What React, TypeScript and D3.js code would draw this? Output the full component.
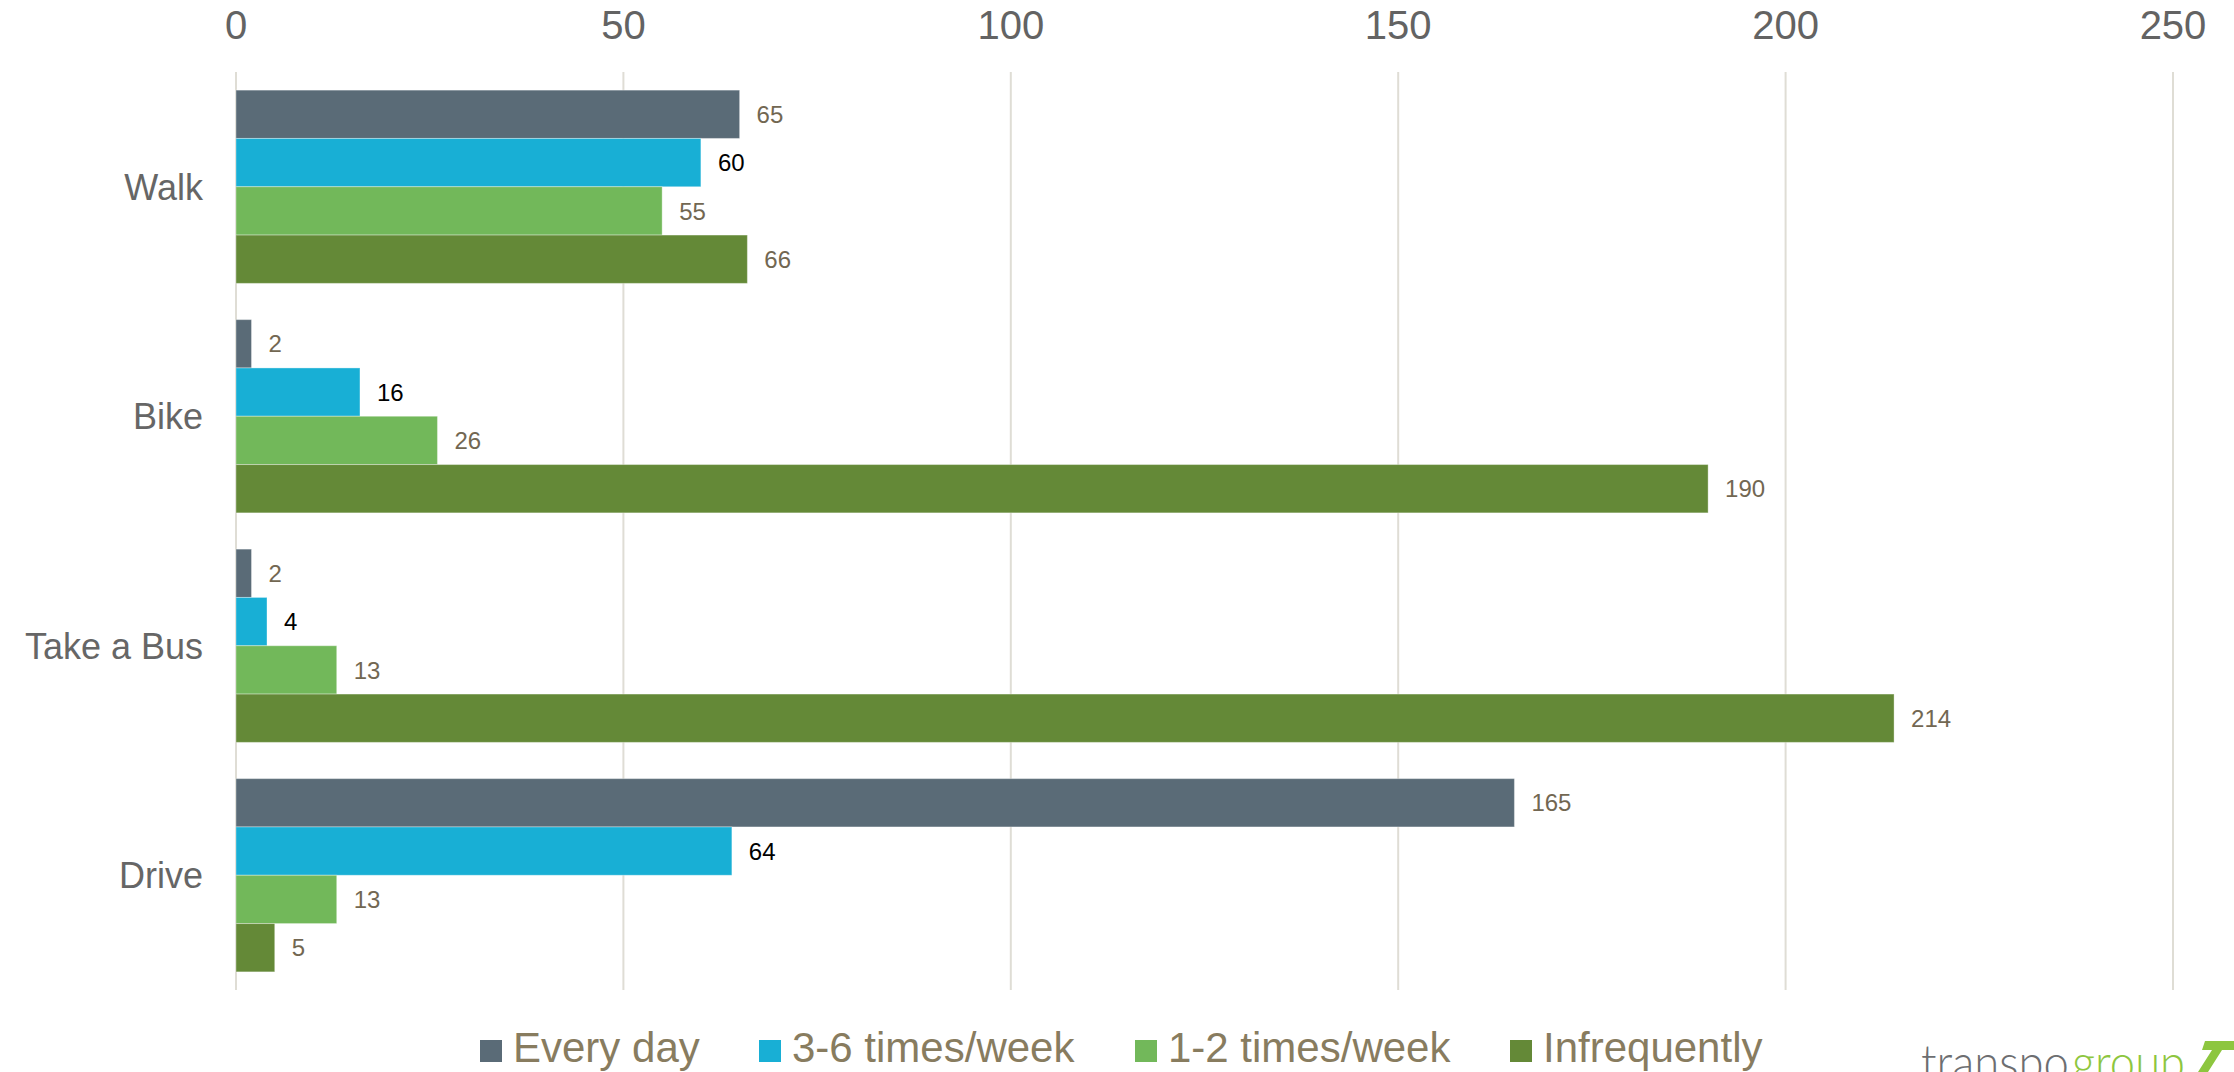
import React, { useRef, useEffect } from "react";
import * as d3 from "d3";

const categories = ["Walk", "Bike", "Take a Bus", "Drive"];
const seriesNames = ["Every day", "3-6 times/week", "1-2 times/week", "Infrequently"];
const everyDay = [65, 2, 2, 165];
const threeToSix = [60, 16, 4, 64];
const oneToTwo = [55, 26, 13, 13];
const infrequently = [66, 190, 214, 5];
const xTicks = [0, 50, 100, 150, 200, 250];

const seriesColors = ["#5A6B77", "#18AFD5", "#72B85A", "#648937"];
const labelColors = ["#726752", "#000000", "#726752", "#726752"];

const App = () => {
  const svgRef = useRef(null);

  useEffect(() => {
    document.body.style.margin = "0";
    document.body.style.overflow = "hidden";

    const width = 2234;
    const height = 1072;
    const seriesValues = [everyDay, threeToSix, oneToTwo, infrequently];

    const svg = d3.select(svgRef.current);
    svg.selectAll("*").remove();
    svg.attr("width", width).attr("height", height).style("display", "block");

    svg.append("rect").attr("width", width).attr("height", height).attr("fill", "#ffffff");

    const xScale = d3.scaleLinear().domain([0, 250]).range([236, 2173]);
    const yScale = d3
      .scaleBand()
      .domain(categories)
      .range([72, 990])
      .paddingInner(0.158)
      .paddingOuter(0.079);
    const subScale = d3
      .scaleBand()
      .domain(seriesNames)
      .range([0, yScale.bandwidth()])
      .padding(0);

    // gridlines
    svg
      .append("g")
      .selectAll("line")
      .data(xTicks)
      .enter()
      .append("line")
      .attr("x1", (d) => xScale(d))
      .attr("x2", (d) => xScale(d))
      .attr("y1", 72)
      .attr("y2", 990)
      .attr("stroke", "#DFDDD5")
      .attr("stroke-width", 2);

    // top tick labels
    svg
      .append("g")
      .selectAll("text")
      .data(xTicks)
      .enter()
      .append("text")
      .attr("x", (d) => xScale(d))
      .attr("y", 39)
      .attr("text-anchor", "middle")
      .attr("font-family", "Liberation Sans, Arial, sans-serif")
      .attr("font-size", 40)
      .attr("fill", "#636363")
      .text((d) => d);

    // category labels
    svg
      .append("g")
      .selectAll("text")
      .data(categories)
      .enter()
      .append("text")
      .attr("x", 203)
      .attr("y", (d) => yScale(d) + yScale.bandwidth() / 2)
      .attr("dy", "0.36em")
      .attr("text-anchor", "end")
      .attr("font-family", "Liberation Sans, Arial, sans-serif")
      .attr("font-size", 36)
      .attr("fill", "#666666")
      .text((d) => d);

    // bars + value labels
    seriesNames.forEach((name, si) => {
      const rows = categories.map((cat, ci) => ({ cat, value: seriesValues[si][ci] }));
      const g = svg.append("g");

      g.selectAll("rect")
        .data(rows)
        .enter()
        .append("rect")
        .attr("x", xScale(0))
        .attr("y", (d) => yScale(d.cat) + subScale(name))
        .attr("width", (d) => xScale(d.value) - xScale(0))
        .attr("height", subScale.bandwidth())
        .attr("fill", seriesColors[si])
        .attr("stroke", "#ffffff")
        .attr("stroke-opacity", 0.35)
        .attr("stroke-width", 1);

      g.selectAll("text")
        .data(rows)
        .enter()
        .append("text")
        .attr("x", (d) => xScale(d.value) + 17)
        .attr("y", (d) => yScale(d.cat) + subScale(name) + subScale.bandwidth() / 2)
        .attr("dy", "0.36em")
        .attr("font-family", "Liberation Sans, Arial, sans-serif")
        .attr("font-size", 24)
        .attr("fill", labelColors[si])
        .text((d) => d.value);
    });

    // legend
    const legendX = [480, 759, 1135, 1510];
    const legend = svg.append("g");
    seriesNames.forEach((name, i) => {
      legend
        .append("rect")
        .attr("x", legendX[i])
        .attr("y", 1040)
        .attr("width", 22)
        .attr("height", 22)
        .attr("fill", seriesColors[i]);
      legend
        .append("text")
        .attr("x", legendX[i] + 33)
        .attr("y", 1062)
        .attr("font-family", "Liberation Sans, Arial, sans-serif")
        .attr("font-size", 42)
        .attr("fill", "#887C5F")
        .text(name);
    });

    // logo, cut by the bottom edge as in the source
    const logo = svg.append("g")
      .attr("font-family", "Lato, Open Sans, sans-serif")
      .attr("font-weight", 300)
      .attr("font-size", 50);
    logo
      .append("text")
      .attr("x", 1921)
      .attr("y", 1080)
      .attr("fill", "#6D6E71")
      .attr("textLength", 148)
      .attr("lengthAdjust", "spacingAndGlyphs")
      .text("transpo");
    logo
      .append("text")
      .attr("x", 2072)
      .attr("y", 1080)
      .attr("fill", "#8DC63F")
      .attr("textLength", 113)
      .attr("lengthAdjust", "spacingAndGlyphs")
      .text("group");
    logo
      .append("path")
      .attr("d", "M2205,1041 L2234,1041 L2234,1050 L2222,1050 L2208,1072 L2198,1072 L2212,1050 L2202,1050 Z")
      .attr("fill", "#8DC63F");
  }, []);

  return (
    <div>
      <svg ref={svgRef}></svg>
    </div>
  );
};

export default App;
